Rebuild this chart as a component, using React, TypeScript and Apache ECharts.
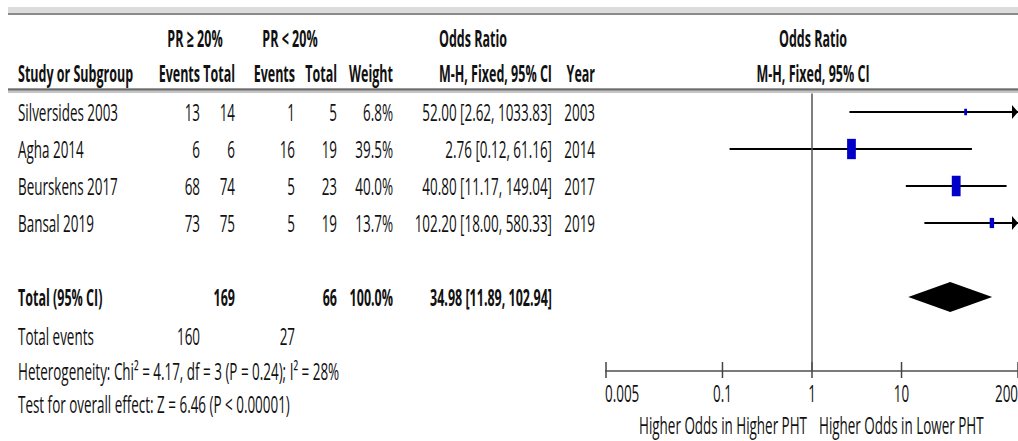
import React, { useEffect, useRef } from 'react';
import * as echarts from 'echarts';

// ---------- data ----------
const studies = ['Silversides 2003', 'Agha 2014', 'Beurskens 2017', 'Bansal 2019'];
const eventsHigh = [13, 6, 68, 73];
const totalHigh = [14, 6, 74, 75];
const eventsLow = [1, 16, 5, 5];
const totalLow = [5, 19, 23, 19];
const weights = [6.8, 39.5, 40.0, 13.7];
const oddsRatio = [52.0, 2.76, 40.8, 102.2];
const ciLower = [2.62, 0.12, 11.17, 18.0];
const ciUpper = [1033.83, 61.16, 149.04, 580.33];
const years = [2003, 2014, 2017, 2019];
const studyRows = [0, 1, 2, 3];

const totalRow = 5;
const totalEventsRow = 6;
const pooledTotalHigh = 169;
const pooledTotalLow = 66;
const pooledWeight = 100.0;
const pooledOR = 34.98;
const pooledLower = 11.89;
const pooledUpper = 102.94;
const totalEventsHigh = 160;
const totalEventsLow = 27;

const tickValues = [0.005, 0.1, 1, 10, 200];
const tickLabels = ['0.005', '0.1', '1', '10', '200'];
const favoursLeft = 'Higher Odds in Higher PHT';
const favoursRight = 'Higher Odds in Lower PHT';
const heterogeneityText = 'Heterogeneity: Chi\u00B2 = 4.17, df = 3 (P = 0.24); I\u00B2 = 28%';
const overallEffectText = 'Test for overall effect: Z = 6.46 (P < 0.00001)';

// ---------- layout / style ----------
const FONT = '"Open Sans", "Noto Sans", sans-serif';
const SIZE = 24;
const SX = 0.56;
const BOLD_SX = 0.93;
const INK = '#111';
const BOX = '#0000c8';
const COL = { name: 18, evH: 200, totH: 235, evL: 295, totL: 337, weight: 393, ci: 552, year: 595 };

const txt = (text: string, x: number, y: number, align = 'left', bold = false) => ({
  type: 'text',
  x,
  y,
  scaleX: bold ? SX * BOLD_SX : SX,
  silent: true,
  style: {
    text,
    fill: INK,
    fontFamily: FONT,
    fontSize: SIZE,
    fontWeight: bold ? 'bold' : 'normal',
    align,
    verticalAlign: 'middle',
  },
});

const fmtCI = (o: number, l: number, h: number) => `${o.toFixed(2)} [${l.toFixed(2)}, ${h.toFixed(2)}]`;

const X_MIN = Math.log10(tickValues[0]);
const X_MAX = Math.log10(tickValues[tickValues.length - 1]);
const Y_MIN = -0.5;
const Y_MAX = 7;

export default function App() {
  const ref = useRef<HTMLDivElement>(null);
  useEffect(() => {
    if (!ref.current) return;
    const chart = echarts.init(ref.current, undefined, { renderer: 'svg' });

    const tableData = [
      ...studyRows.map((r, i) => [0, r, 0, i]),
      [0, totalRow, 1, -1],
      [0, totalEventsRow, 2, -1],
    ];

    const option: any = {
      animation: false,
      grid: { left: 606, right: -2.2, top: 93.5, bottom: 70 },
      xAxis: {
        type: 'value',
        min: X_MIN,
        max: X_MAX,
        axisLine: { show: true, onZero: false, lineStyle: { color: '#7a7a7a', width: 2 } },
        axisTick: { show: false },
        axisLabel: { show: false },
        splitLine: { show: false },
      },
      yAxis: { type: 'value', min: Y_MIN, max: Y_MAX, inverse: true, show: false },
      series: [
        {
          type: 'custom',
          name: 'table',
          silent: true,
          clip: false,
          data: tableData,
          renderItem: (params: any, api: any) => {
            const y = api.coord([0, api.value(1)])[1];
            const kind = api.value(2);
            const i = api.value(3);
            if (kind === 0) {
              return {
                type: 'group',
                children: [
                  txt(studies[i], COL.name, y, 'left'),
                  txt(String(eventsHigh[i]), COL.evH, y, 'right'),
                  txt(String(totalHigh[i]), COL.totH, y, 'right'),
                  txt(String(eventsLow[i]), COL.evL, y, 'right'),
                  txt(String(totalLow[i]), COL.totL, y, 'right'),
                  txt(weights[i].toFixed(1) + '%', COL.weight, y, 'right'),
                  txt(fmtCI(oddsRatio[i], ciLower[i], ciUpper[i]), COL.ci, y, 'right'),
                  txt(String(years[i]), COL.year, y, 'right'),
                ],
              };
            }
            if (kind === 1) {
              return {
                type: 'group',
                children: [
                  txt('Total (95% CI)', COL.name, y, 'left', true),
                  txt(String(pooledTotalHigh), COL.totH, y, 'right', true),
                  txt(String(pooledTotalLow), COL.totL, y, 'right', true),
                  txt(pooledWeight.toFixed(1) + '%', COL.weight, y, 'right', true),
                  txt(fmtCI(pooledOR, pooledLower, pooledUpper), COL.ci, y, 'right', true),
                ],
              };
            }
            return {
              type: 'group',
              children: [
                txt('Total events', COL.name, y + 2, 'left'),
                txt(String(totalEventsHigh), COL.evH, y + 2, 'right'),
                txt(String(totalEventsLow), COL.evL, y + 2, 'right'),
              ],
            };
          },
        },
        {
          type: 'custom',
          name: 'studies',
          silent: true,
          clip: false,
          data: studyRows.map((r, i) => [
            Math.log10(oddsRatio[i]),
            Math.log10(ciLower[i]),
            Math.log10(ciUpper[i]),
            r,
            weights[i],
          ]),
          renderItem: (params: any, api: any) => {
            const row = api.value(3);
            const c = api.coord([api.value(0), row]);
            const l = api.coord([Math.max(api.value(1), X_MIN), row]);
            const clipped = api.value(2) > X_MAX;
            const h = api.coord([Math.min(api.value(2), X_MAX), row]);
            const bh = 20.5 * Math.pow(api.value(4) / 40, 0.65);
            const bw = bh * 0.43;
            const children: any[] = [
              {
                type: 'line',
                shape: { x1: l[0], y1: l[1], x2: h[0], y2: h[1] },
                style: { stroke: '#000', lineWidth: 2.2 },
              },
            ];
            if (clipped) {
              children.push({
                type: 'polygon',
                shape: { points: [[h[0] - 6, h[1] - 7], [h[0], h[1]], [h[0] - 6, h[1] + 7]] },
                style: { fill: '#000' },
              });
            }
            children.push({
              type: 'rect',
              shape: { x: c[0] - bw / 2, y: c[1] - bh / 2, width: bw, height: bh },
              style: { fill: BOX },
            });
            return { type: 'group', children };
          },
          markLine: {
            silent: true,
            symbol: 'none',
            label: { show: false },
            lineStyle: { color: '#555', width: 1.5, type: 'solid' },
            data: [{ xAxis: 0 }],
          },
        },
        {
          type: 'custom',
          name: 'pooled',
          silent: true,
          clip: false,
          data: [[Math.log10(pooledOR), Math.log10(pooledLower), Math.log10(pooledUpper), totalRow]],
          renderItem: (params: any, api: any) => {
            const row = api.value(3);
            const c = api.coord([api.value(0), row]);
            const l = api.coord([api.value(1), row]);
            const h = api.coord([api.value(2), row]);
            const d = 15;
            return {
              type: 'polygon',
              shape: { points: [[l[0], l[1]], [c[0], c[1] - d], [h[0], h[1]], [c[0], c[1] + d]] },
              style: { fill: '#000' },
            };
          },
        },
        {
          type: 'custom',
          name: 'ticks',
          silent: true,
          clip: false,
          data: tickValues.map((v, i) => [Math.log10(v), i]),
          renderItem: (params: any, api: any) => {
            const i = api.value(1);
            const p = api.coord([api.value(0), Y_MAX]);
            const align = i === 0 ? 'left' : i === tickValues.length - 1 ? 'right' : 'center';
            const children: any[] = [
              {
                type: 'line',
                shape: { x1: p[0], y1: p[1] - 9, x2: p[0], y2: p[1] + 7 },
                style: { stroke: '#444', lineWidth: 1.5 },
              },
              txt(tickLabels[i], align === 'left' ? p[0] - 1 : p[0], p[1] + 22, align),
            ];
            if (api.value(0) === 0) {
              children.push(txt(favoursLeft, p[0] - 5, p[1] + 54, 'right'));
              children.push(txt(favoursRight, p[0] + 7, p[1] + 54, 'left'));
            }
            return { type: 'group', children };
          },
        },
      ],
      graphic: [
        { type: 'rect', shape: { x: 8, y: 7, width: 1010, height: 6 }, style: { fill: '#dcdcdc' }, silent: true },
        { type: 'line', shape: { x1: 8, y1: 14, x2: 1018, y2: 14 }, style: { stroke: '#8a8a8a', lineWidth: 2 }, silent: true },
        { type: 'rect', shape: { x: 8, y: 88, width: 1010, height: 5 }, style: { fill: '#c4c4c4' }, silent: true },
        { type: 'line', shape: { x1: 8, y1: 89.5, x2: 1018, y2: 89.5 }, style: { stroke: '#6e6e6e', lineWidth: 2 }, silent: true },
        txt('PR \u2265 20%', 195, 38, 'center', true),
        txt('PR < 20%', 290, 38, 'center', true),
        txt('Odds Ratio', 473, 38, 'center', true),
        txt('Study or Subgroup', COL.name, 73, 'left', true),
        txt('Events', COL.evH, 73, 'right', true),
        txt('Total', COL.totH, 73, 'right', true),
        txt('Events', COL.evL, 73, 'right', true),
        txt('Total', COL.totL, 73, 'right', true),
        txt('Weight', COL.weight, 73, 'right', true),
        txt('M-H, Fixed, 95% CI', COL.ci, 73, 'right', true),
        txt('Year', COL.year, 73, 'right', true),
        txt('Odds Ratio', 813, 38, 'center', true),
        txt('M-H, Fixed, 95% CI', 813, 73, 'center', true),
        txt(heterogeneityText, COL.name, 371, 'left'),
        txt(overallEffectText, COL.name, 404, 'left'),
      ],
    };
    chart.setOption(option);
    return () => chart.dispose();
  }, []);
  return (
    <div
      ref={ref}
      style={{ position: 'absolute', left: 0, top: 0, width: 1018, height: 441, background: '#fff' }}
    />
  );
}
